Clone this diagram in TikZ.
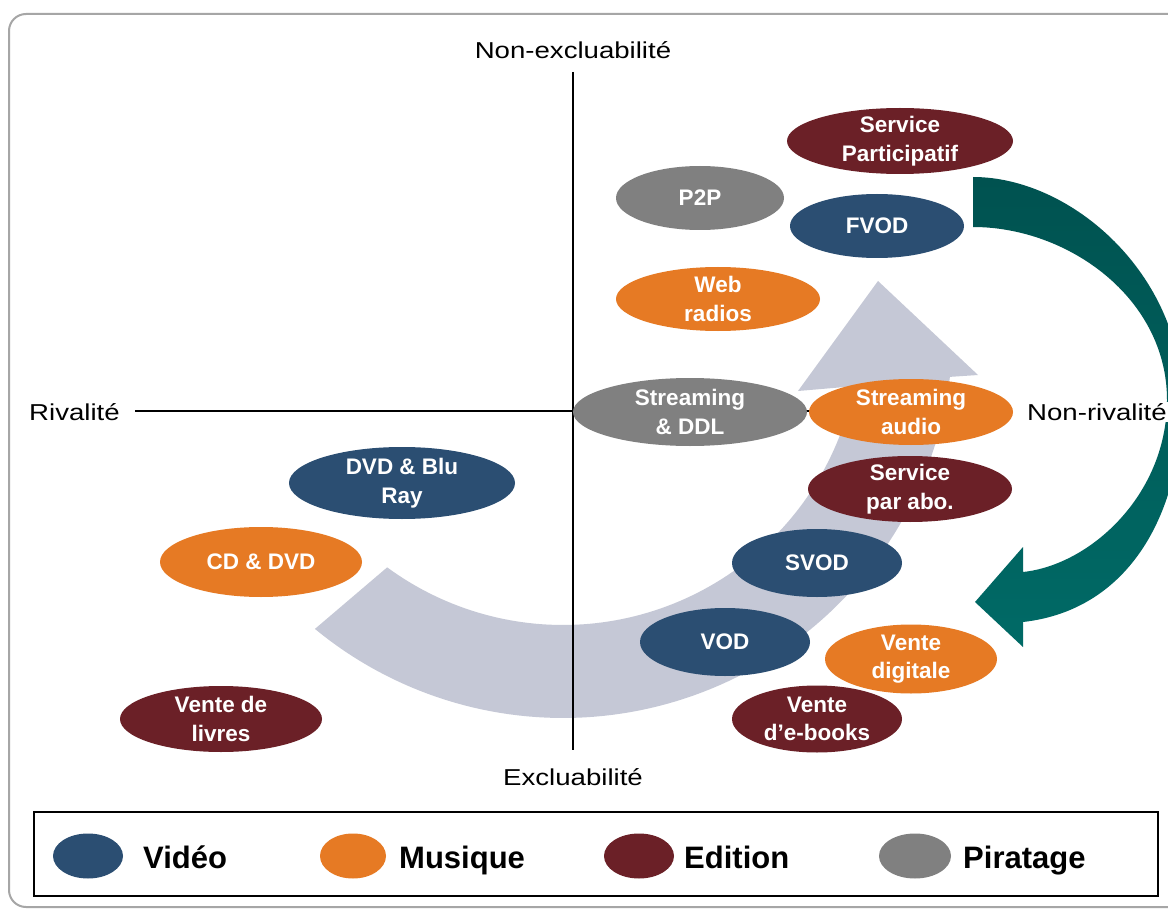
\documentclass[tikz,border=0pt]{standalone}
\usepackage{fontspec}
\setmainfont{Liberation Sans}
\newfontfamily\axisfont[FakeStretch=1.2]{Liberation Sans}
\usetikzlibrary{shapes.geometric}
\definecolor{cVid}{RGB}{43,78,114}
\definecolor{cMus}{RGB}{230,122,36}
\definecolor{cEdi}{RGB}{107,32,39}
\definecolor{cPir}{RGB}{128,128,128}
\definecolor{cArr}{RGB}{197,200,214}
\definecolor{cTealA}{RGB}{0,82,80}
\definecolor{cTealB}{RGB}{0,106,102}
\definecolor{cFrame}{RGB}{166,166,166}
\begin{document}
\begin{tikzpicture}[x=1pt,y=-1pt,
  ell/.style={ellipse, draw=none, inner sep=0pt},
  vid/.style={ell, fill=cVid},
  mus/.style={ell, fill=cMus},
  edi/.style={ell, fill=cEdi},
  pir/.style={ell, fill=cPir},
  lbl/.style={text=white, font=\bfseries\fontsize{22.5}{28.5}\selectfont, align=center, inner sep=0pt},
  axlbl/.style={font=\axisfont\fontsize{23}{27}\selectfont, inner sep=1pt},
  leglbl/.style={font=\bfseries\fontsize{31}{36}\selectfont, anchor=base west, inner sep=0pt},
  axisline/.style={line width=1.6pt},
  garrow/.style={fill=cArr},
  frame/.style={draw=cFrame, line width=2pt, rounded corners=17pt},
]
\useasboundingbox (0,0) rectangle (1168,912);
\clip (0,0) rectangle (1168,912);
\fill[white] (0,0) rectangle (1168,912);
% outer frame
\draw[frame] (9,14) rectangle (1210,907);

% grey curved arrow
\fill[garrow] plot[domain=129.5:7.2,samples=90] ({563+390*cos(\x)},{328+390*sin(\x)})
  -- (978,375) -- (878,281) -- (798,391)
  -- plot[domain=11.3:126.3,samples=90] ({563+297*cos(\x)},{328+297*sin(\x)}) -- cycle;

% teal curved arrow
\shade[top color=cTealA, bottom color=cTealB]
  (973,177) .. controls (1072,177) and (1182,275) .. (1182,400)
  .. controls (1182,512) and (1130,610) .. (1023,622)
  -- (1023,647) -- (975,602) -- (1023,547) -- (1023,572)
  .. controls (1090,565) and (1167,495) .. (1167,400)
  .. controls (1167,298) and (1068,227) .. (973,227) -- cycle;

% axes
\coordinate (yt) at (573,72);
\coordinate (yb) at (573,750);
\coordinate (xl) at (135,411);
\coordinate (xr) at (1005,411);
\draw[axisline] (yt) -- (yb);
\draw[axisline] (xl) -- (xr);
\node[axlbl] (nexcl) at (573,50) {Non-excluabilité};
\node[axlbl] (excl) at (573,777) {Excluabilité};
\node[axlbl, anchor=west] (riv) at (28,412) {Rivalité};
\node[axlbl, anchor=west, fill=white] (nriv) at (1026,412) {Non-rivalité};

% ellipses
\node[edi, minimum width=226pt, minimum height=66pt] (part) at (900,141) {};
\node[lbl] (partT) at (part) {Service\\Participatif};
\node[pir, minimum width=168pt, minimum height=64pt] (p2p) at (700,198) {};
\node[lbl] (p2pT) at (p2p) {P2P};
\node[vid, minimum width=174pt, minimum height=64pt] (fvod) at (877,226) {};
\node[lbl] (fvodT) at (fvod) {FVOD};
\node[mus, minimum width=204pt, minimum height=64pt] (web) at (718,299) {};
\node[lbl] (webT) at (web) {Web\\radios};
\node[pir, minimum width=234pt, minimum height=68pt] (sddl) at (690,412) {};
\node[lbl] (sddlT) at (sddl) {Streaming\\\& DDL};
\node[mus, minimum width=204pt, minimum height=66pt] (saud) at (911,412) {};
\node[lbl] (saudT) at (saud) {Streaming\\audio};
\node[edi, minimum width=204pt, minimum height=66pt] (abo) at (910,489) {};
\node[lbl] (aboT) at (abo) {Service\\par abo.};
\node[vid, minimum width=226pt, minimum height=72pt] (dvd) at (402,483) {};
\node[lbl] (dvdT) at (dvd) {DVD \& Blu\\Ray};
\node[mus, minimum width=202pt, minimum height=70pt] (cd) at (261,562) {};
\node[lbl] (cdT) at (cd) {CD \& DVD};
\node[vid, minimum width=170pt, minimum height=68pt] (svod) at (817,563) {};
\node[lbl] (svodT) at (svod) {SVOD};
\node[vid, minimum width=170pt, minimum height=68pt] (vod) at (725,642) {};
\node[lbl] (vodT) at (vod) {VOD};
\node[mus, minimum width=172pt, minimum height=69pt] (vdig) at (911,659) {};
\node[lbl] (vdigT) at (vdig) {Vente\\digitale};
\node[edi, minimum width=170pt, minimum height=67pt] (ebook) at (817,719) {};
\node[lbl] (ebookT) at (ebook) {Vente\\d’e-books};
\node[edi, minimum width=202pt, minimum height=66pt] (livres) at (221,719) {};
\node[lbl] (livresT) at (livres) {Vente de\\livres};

% legend
\draw[line width=2pt] (34,812) rectangle (1158,896);
\node[vid, minimum width=70pt, minimum height=45pt] (lv) at (88,856) {};
\node[leglbl] (lvT) at (143,868) {Vidéo};
\node[mus, minimum width=66pt, minimum height=45pt] (lm) at (353,856) {};
\node[leglbl] (lmT) at (399,868) {Musique};
\node[edi, minimum width=70pt, minimum height=45pt] (le) at (639,856) {};
\node[leglbl] (leT) at (684,868) {Edition};
\node[pir, minimum width=72pt, minimum height=45pt] (lp) at (915,856) {};
\node[leglbl] (lpT) at (963,868) {Piratage};
\end{tikzpicture}
\end{document}
